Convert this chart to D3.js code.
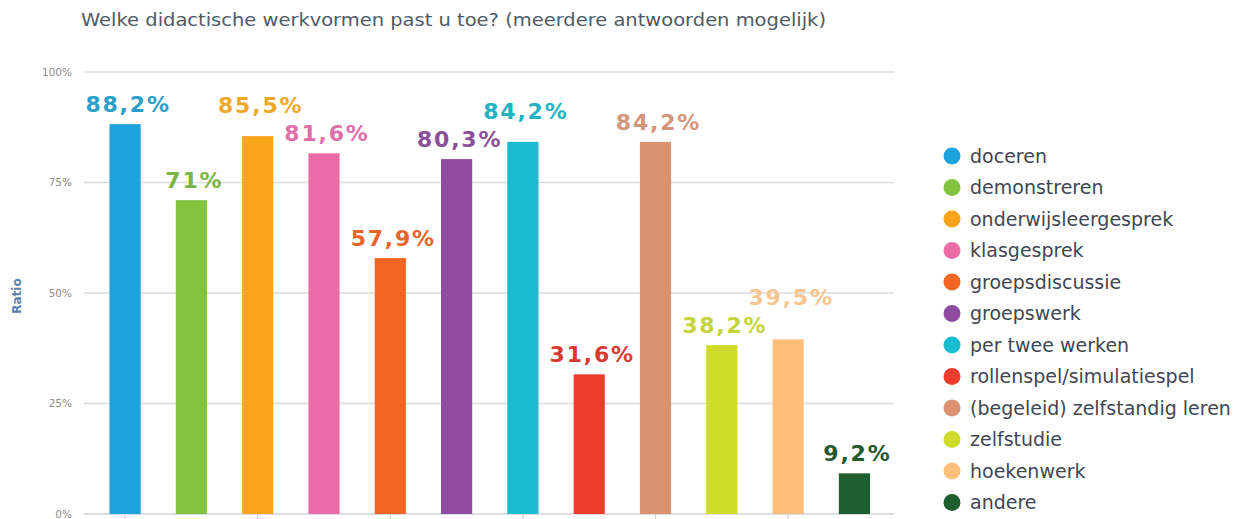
<!DOCTYPE html>
<html lang="nl">
<head>
    <meta charset="UTF-8">
    <title>Didactische werkvormen</title>
    <script src="https://d3js.org/d3.v7.min.js"></script>
    <style>
        body { margin: 0; background: #fff; }
        svg { display: block; }
    </style>
</head>
<body>
<div id="chart"></div>

<script>
    const title = "Welke didactische werkvormen past u toe? (meerdere antwoorden mogelijk)";
    const categories = ["doceren", "demonstreren", "onderwijsleergesprek", "klasgesprek", "groepsdiscussie",
        "groepswerk", "per twee werken", "rollenspel/simulatiespel", "(begeleid) zelfstandig leren",
        "zelfstudie", "hoekenwerk", "andere"];
    const values = [88.2, 71, 85.5, 81.6, 57.9, 80.3, 84.2, 31.6, 84.2, 38.2, 39.5, 9.2];
    const valueLabels = ["88,2%", "71%", "85,5%", "81,6%", "57,9%", "80,3%", "84,2%", "31,6%", "84,2%", "38,2%", "39,5%", "9,2%"];
    const barColors = ["#1ca3de", "#84c341", "#f9a51b", "#e96ca8", "#f26522", "#8e4b9f",
        "#17bccf", "#ee3b2d", "#d9926f", "#cddc29", "#fdbf79", "#1f5e2e"];
    const labelColors = ["#2c9fc9", "#7bb545", "#f0a82a", "#e070a8", "#e8652c", "#8a4f98",
        "#22b3c2", "#d83a32", "#d4957a", "#c3d43c", "#f7c590", "#1f5a30"];
    const yTicks = [0, 25, 50, 75, 100];

    const width = 1246, height = 519;

    const svg = d3.select("#chart").append("svg")
        .attr("width", width)
        .attr("height", height);

    // scales
    const y = d3.scaleLinear().domain([0, 100]).range([514, 72]);
    const x = d3.scaleBand()
        .domain(categories)
        .range([109.5, 870])
        .paddingInner(0.53)
        .paddingOuter(0);

    // title
    svg.append("text")
        .attr("x", 81)
        .attr("y", 26)
        .attr("font-family", "DejaVu Sans")
        .attr("font-size", 17)
        .attr("fill", "#505a66")
        .attr("textLength", 745)
        .attr("lengthAdjust", "spacingAndGlyphs")
        .text(title);

    // grid lines + y labels
    const grid = svg.append("g");
    grid.selectAll("line")
        .data(yTicks)
        .join("line")
        .attr("x1", 84)
        .attr("x2", 894)
        .attr("y1", d => y(d))
        .attr("y2", d => y(d))
        .attr("stroke", d => d === 0 ? "#cfd3dc" : "#dcdcdc")
        .attr("stroke-width", 1.6);

    grid.selectAll("text")
        .data(yTicks)
        .join("text")
        .attr("x", 72)
        .attr("y", d => y(d))
        .attr("dy", "0.35em")
        .attr("text-anchor", "end")
        .attr("font-family", "DejaVu Sans")
        .attr("font-size", 10.5)
        .attr("fill", "#8c8c8c")
        .text(d => d + "%");

    // little ticks under the axis, every second category
    svg.append("g").selectAll("line")
        .data(categories.filter((_, i) => i % 2 === 0))
        .join("line")
        .attr("x1", d => x(d) + x.bandwidth() / 2)
        .attr("x2", d => x(d) + x.bandwidth() / 2)
        .attr("y1", y(0))
        .attr("y2", y(0) + 6)
        .attr("stroke", "#cfd3dc")
        .attr("stroke-width", 1.2);

    // axis title
    svg.append("text")
        .attr("transform", "translate(21,296) rotate(-90)")
        .attr("text-anchor", "middle")
        .attr("font-family", "DejaVu Sans")
        .attr("font-weight", "bold")
        .attr("font-size", 12)
        .attr("fill", "#5b80aa")
        .text("Ratio");

    // bars
    svg.append("g").selectAll("rect")
        .data(categories)
        .join("rect")
        .attr("x", d => x(d))
        .attr("width", x.bandwidth())
        .attr("y", (d, i) => y(values[i]))
        .attr("height", (d, i) => y(0) - y(values[i]))
        .attr("fill", (d, i) => barColors[i]);

    // value labels
    const labels = svg.append("g").selectAll("text")
        .data(categories)
        .join("text")
        .attr("x", d => x(d) + x.bandwidth() / 2 + 3)
        .attr("y", (d, i) => y(values[i]) - 12)
        .attr("text-anchor", "middle")
        .attr("font-family", "DejaVu Sans")
        .attr("font-weight", "bold")
        .attr("font-size", 22)
        .attr("letter-spacing", 1.8)
        .attr("fill", (d, i) => labelColors[i])
        .text((d, i) => valueLabels[i]);

    // neighbouring labels that collide: lift the one on the taller bar
    const nodes = labels.nodes();
    const minGap = 28;
    for (let i = 1; i < nodes.length; i++) {
        const a = nodes[i - 1].getBBox(), b = nodes[i].getBBox();
        if (a.x + a.width <= b.x) continue;
        const ya = +nodes[i - 1].getAttribute("y"), yb = +nodes[i].getAttribute("y");
        if (Math.abs(ya - yb) >= minGap) continue;
        if (ya < yb) nodes[i - 1].setAttribute("y", yb - minGap);
        else nodes[i].setAttribute("y", ya - minGap);
    }

    // legend
    const legend = svg.append("g").attr("transform", "translate(952,156)");
    const rows = legend.selectAll("g")
        .data(categories)
        .join("g")
        .attr("transform", (d, i) => `translate(0,${i * 31.5})`);

    rows.append("circle")
        .attr("r", 8.5)
        .attr("fill", (d, i) => barColors[i]);

    rows.append("text")
        .attr("x", 18)
        .attr("dy", "0.35em")
        .attr("font-family", "DejaVu Sans")
        .attr("font-size", 19)
        .attr("fill", "#3f4653")
        .text(d => d);
</script>
</body>
</html>
